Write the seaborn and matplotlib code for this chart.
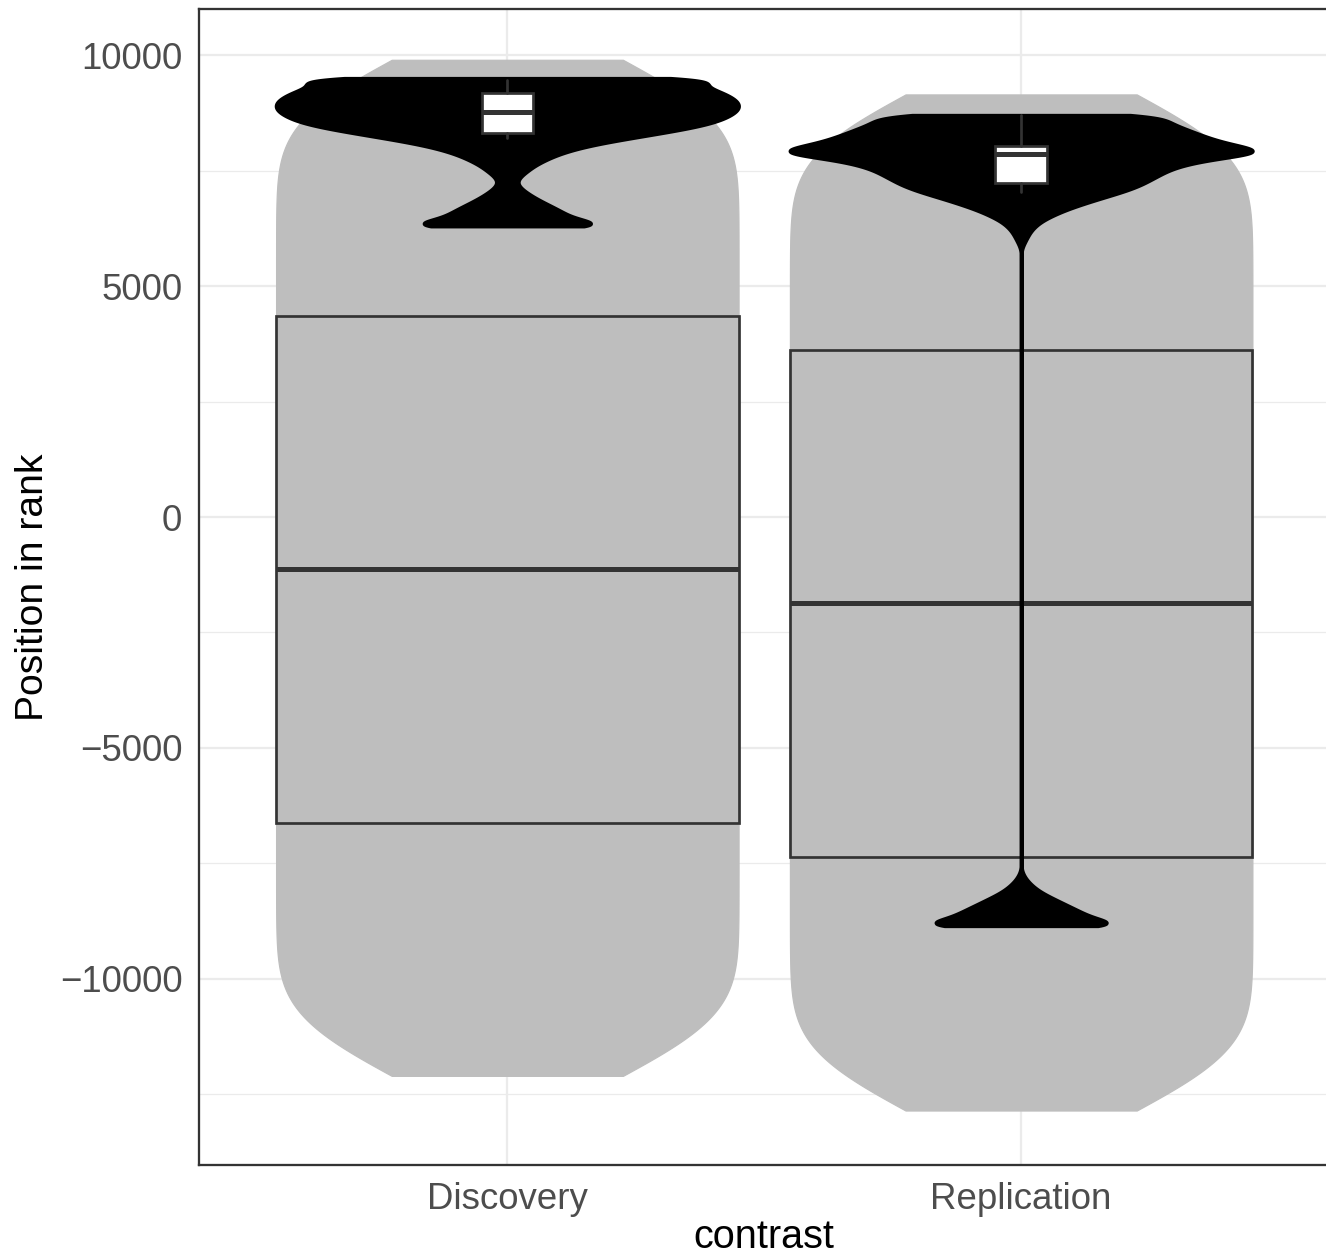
import numpy as np
import matplotlib
matplotlib.use("Agg")
import matplotlib.pyplot as plt
import seaborn as sns

groups = ["Discovery", "Replication"]

# grey layer: whole rank range, spread evenly (histogram-style values + counts)
all_disc_vals = [-12100, -11100, -10100, -9100, -8100, -7100, -6100, -5100, -4100, -3100, -2100, -1100,
                 -100, 900, 1900, 2900, 3900, 4900, 5900, 6900, 7900, 8900, 9900]
all_rep_vals = [-12850, -11850, -10850, -9850, -8850, -7850, -6850, -5850, -4850, -3850, -2850, -1850,
                -850, 150, 1150, 2150, 3150, 4150, 5150, 6150, 7150, 8150, 9150]
all_counts = [1, 2, 2, 2, 2, 2, 2, 2, 2, 2, 2, 2, 2, 2, 2, 2, 2, 2, 2, 2, 2, 2, 1]

# black layer: selected genes
sel_disc_vals = [6300, 6400, 6500, 6600, 6700, 6800, 6900, 7000, 7100, 7200, 7300, 7400, 7500, 7600, 7700,
                 7800, 7900, 8000, 8100, 8200, 8300, 8400, 8500, 8600, 8700, 8800, 8900, 9000, 9100, 9200,
                 9300, 9400, 9500]
sel_disc_counts = [60, 30, 27, 24, 20, 16, 12, 9, 6, 4, 4, 6, 9, 11, 15,
                   19, 24, 31, 40, 52, 64, 76, 86, 92, 96, 99, 100, 99, 96, 92,
                   86, 78, 115]
sel_rep_vals = [-8850, -8750, -8650, -8550, -8450, -8350, -8250, -8150, -8050, -7950, -7850, -7750,
                5900, 6000, 6100, 6200, 6300, 6400, 6500, 6600, 6700, 6800, 6900, 7000, 7100, 7200,
                7300, 7400, 7500, 7600, 7700, 7800, 7900, 8000, 8100, 8200, 8300, 8400, 8500, 8600, 8700]
sel_rep_counts = [57, 32, 29, 25, 21, 17, 13, 9, 6, 4, 2, 1,
                  1, 2, 3, 4, 6, 8, 12, 16, 21, 27, 33, 40, 46, 51,
                  54, 58, 61, 66, 74, 85, 110, 94, 85, 79, 74, 69, 64, 58, 70]

# box statistics
all_q1 = [-6623, -7361]
all_med = [-1126, -1862]
all_q3 = [4351, 3615]
sel_q1 = [8305, 7223]
sel_med = [8760, 7850]
sel_q3 = [9171, 8030]
sel_lo = [8210, 7041]
sel_hi = [9459, 8701]

y_ticks = [-10000, -5000, 0, 5000, 10000]
y_minor = [-12500, -7500, -2500, 2500, 7500]

GREY = "#BEBEBE"
DARK = "#333333"

sns.set_style("white")
plt.rcParams["font.family"] = ["Liberation Sans", "DejaVu Sans"]

fig = plt.figure(figsize=(4.42, 4.1867), dpi=300)
ax = fig.add_axes([0.1501, 0.07245, 0.8525, 0.92038])


def draw_violin(vals, counts, grp, sigma, color, lw, z):
    sample = np.repeat(vals, counts).astype(float)
    sns.violinplot(x=[grp] * len(sample), y=sample, order=groups, color=color, saturation=1,
                   inner=None, cut=0, density_norm="width", width=0.9, gridsize=1500,
                   bw_method=sigma / np.std(sample, ddof=1), linewidth=lw, linecolor=color,
                   ax=ax, zorder=z)


# grey violins
draw_violin(all_disc_vals, all_counts, "Discovery", 1000, GREY, 0.3, 1)
draw_violin(all_rep_vals, all_counts, "Replication", 1000, GREY, 0.3, 1)

# grey boxes (no whiskers)
grey_stats = [dict(q1=all_q1[i], med=all_med[i], q3=all_q3[i], whislo=all_q1[i], whishi=all_q3[i], fliers=[])
              for i in range(2)]
ax.bxp(grey_stats, positions=[0, 1], widths=0.9, patch_artist=True, showfliers=False, showcaps=False,
       boxprops=dict(facecolor=GREY, edgecolor=DARK, linewidth=0.65),
       medianprops=dict(color=DARK, linewidth=1.2),
       whiskerprops=dict(color=DARK, linewidth=0.65), manage_ticks=False, zorder=2)

# black violins
draw_violin(sel_disc_vals, sel_disc_counts, "Discovery", 100, "black", 0.9, 3)
draw_violin(sel_rep_vals, sel_rep_counts, "Replication", 100, "black", 0.9, 3)

# white boxes
white_stats = [dict(q1=sel_q1[i], med=sel_med[i], q3=sel_q3[i], whislo=sel_lo[i], whishi=sel_hi[i], fliers=[])
               for i in range(2)]
ax.bxp(white_stats, positions=[0, 1], widths=0.1, patch_artist=True, showfliers=False, showcaps=False,
       boxprops=dict(facecolor="white", edgecolor=DARK, linewidth=0.65),
       medianprops=dict(color=DARK, linewidth=1.2),
       whiskerprops=dict(color=DARK, linewidth=0.65), manage_ticks=False, zorder=4)

ax.set_xlim(-0.6, 1.6)
ax.set_ylim(-14030, 11000)
ax.set_xticks([0, 1])
ax.set_xticklabels(groups)
ax.set_yticks(y_ticks)
ax.set_yticks(y_minor, minor=True)

ax.set_axisbelow(True)
ax.grid(True, which="major", color="#EBEBEB", linewidth=0.55)
ax.yaxis.grid(True, which="minor", color="#EBEBEB", linewidth=0.3)

for s in ax.spines.values():
    s.set_color(DARK)
    s.set_linewidth(0.55)
ax.spines["right"].set_visible(False)

ax.tick_params(which="major", length=2, width=0.5, color=DARK, labelsize=8.8, labelcolor="#4D4D4D", pad=2)
ax.tick_params(which="minor", length=0)

ax.set_xlabel("contrast", fontsize=9.5, color="black", labelpad=0.3)
ax.set_ylabel("Position in rank", fontsize=9.4, color="black", labelpad=2.2)

fig.savefig("out.png", dpi=300)
